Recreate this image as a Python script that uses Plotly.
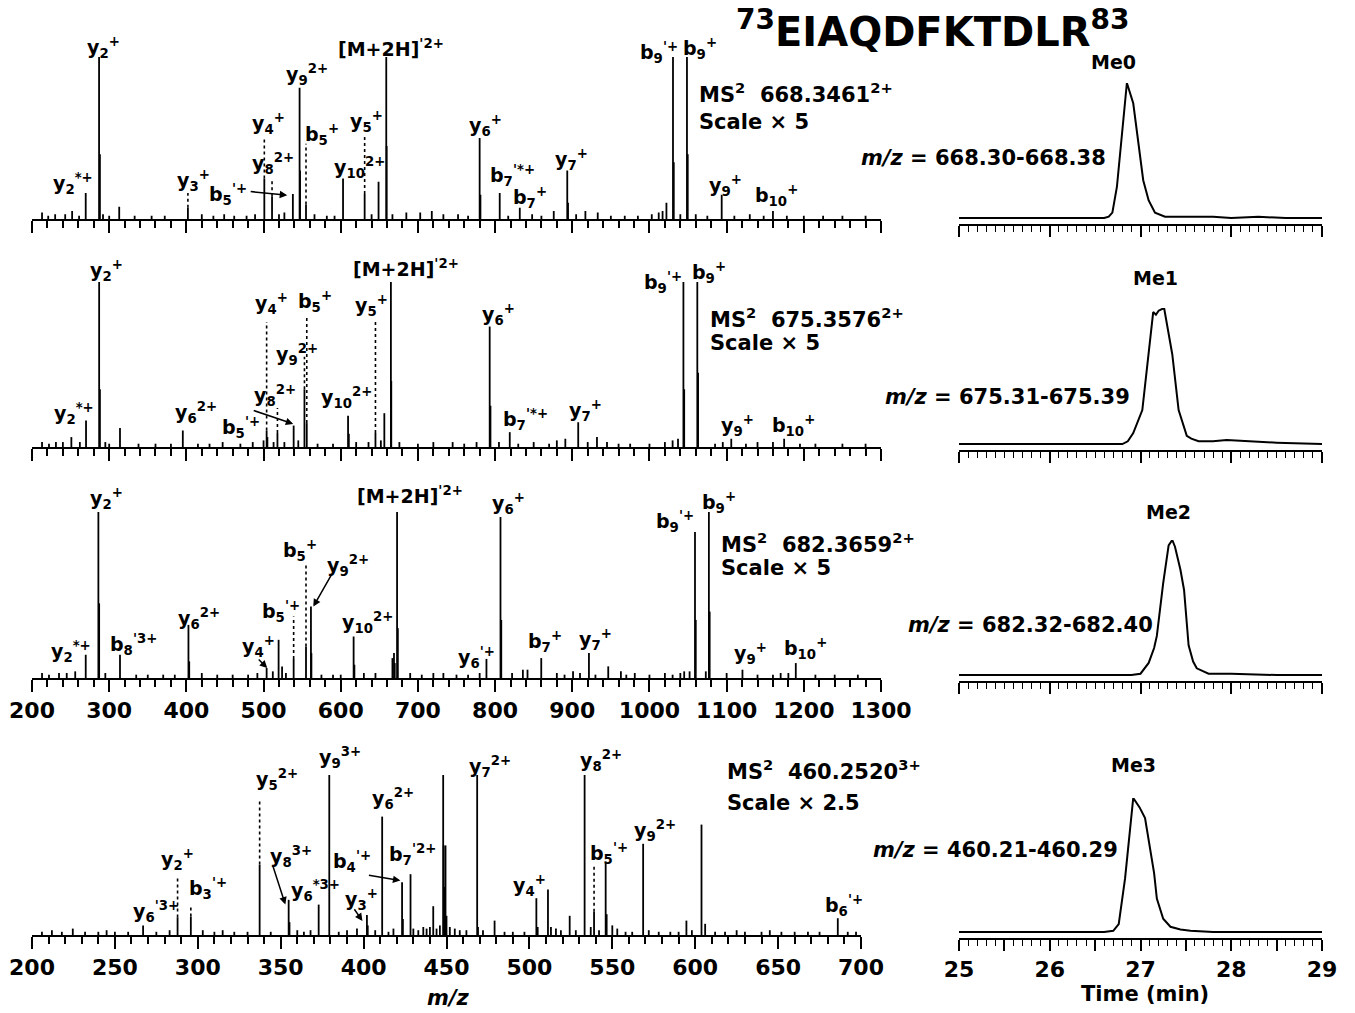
import plotly.graph_objects as go

W, H = 1355, 1013
FONT = "DejaVu Sans"

# ---------------- MS2 spectra (relative intensity, %) ----------------
# Me0, precursor 668.3461 (2+)
s0_mz = [269.6, 286.9, 288.0, 313, 402, 501, 511, 538, 546.7, 547.3, 555, 603, 631, 649,
         659, 659.5, 780, 781, 806, 832, 893.5, 894.5, 1022, 1030.5, 1031.5, 1048.6, 1049.6,
         1093.6, 1160]
s0_int = [16, 100, 40, 7.5, 7, 25, 14, 15.5, 81, 30, 9, 25, 15.5, 23,
          100, 45, 50, 15, 16, 7, 30, 10, 10, 100, 35, 100, 40,
          15, 5]
s0_noise_mz = [213, 221, 230, 243, 252, 261, 292, 300, 333, 355, 372, 420, 435, 449, 462, 478,
               489, 520, 527, 566, 582, 592, 640, 667, 685, 703, 718, 733, 752, 765, 817, 848,
               860, 876, 905, 917, 933, 950, 968, 985, 1003, 1012, 1017, 1040, 1060, 1075,
               1110, 1130, 1148, 1178, 1200, 1225, 1250, 1280]
s0_noise_int = [4, 2, 3, 3, 5, 2, 3, 2, 2, 2, 2, 3, 2, 3, 2, 2,
                3, 3, 4, 3, 2, 2, 3, 3, 4, 4, 5, 3, 3, 2, 2, 3,
                2, 5, 3, 5, 4, 2, 2, 2, 3, 4, 5, 3, 3, 2,
                2, 3, 2, 2, 2, 2, 2, 2]

# Me1, precursor 675.3576 (2+)
s1_mz = [251, 270, 287, 288, 314, 395.4, 504, 505, 518, 539, 553, 556, 609.5, 610.5, 645,
         656.5, 665, 665.5, 793, 794, 819, 891, 907.7, 932, 945, 1044, 1045, 1062, 1063,
         1106, 1174.5]
s1_int = [6, 16, 100, 35, 11.5, 10, 10, 6, 8.5, 13, 35, 14.5, 19, 8, 8.5,
          20.5, 100, 40, 73, 25, 9, 5, 15, 6, 3, 100, 35, 100, 45,
          5, 5]
s1_noise_mz = [213, 222, 231, 240, 262, 295, 300, 338, 360, 380, 415, 430, 447, 470, 486, 500,
               513, 527, 545, 570, 590, 620, 636, 652, 676, 700, 720, 745, 760, 776, 805, 830,
               850, 870, 880, 920, 960, 975, 1000, 1020, 1030, 1037, 1085, 1095, 1125, 1140,
               1160, 1195, 1215, 1250, 1280]
s1_noise_int = [3, 2, 3, 3, 3, 3, 2, 2, 2, 2, 2, 2, 3, 2, 3, 4,
                3, 3, 4, 2, 2, 3, 3, 4, 3, 2, 3, 3, 2, 3, 3, 2,
                3, 2, 4, 3, 2, 2, 2, 3, 4, 5, 2, 3, 2, 3,
                3, 2, 2, 2, 2]

# Me2, precursor 682.3659 (2+)
s2_mz = [269.6, 286, 287, 314, 402.7, 403.7, 504, 519.5, 524, 539, 555, 561.4, 562,
         616.7, 617.7, 667, 669, 670, 673, 674, 733, 788.8, 807, 808, 836, 859.8, 901,
         921.6, 946.6, 963, 981, 1040, 1052, 1059, 1060, 1073, 1077, 1078, 1120.5, 1170,
         1189.6]
s2_int = [14, 100, 45, 14, 32, 10, 6, 23, 7, 11.5, 19, 43, 15,
          25, 8, 12, 15, 9, 100, 30, 3, 11.5, 97, 35, 5, 12, 4,
          15, 7, 4, 3, 3, 4, 88, 35, 4, 100, 40, 5, 3,
          9]
s2_noise_mz = [213, 222, 235, 245, 256, 295, 335, 350, 370, 385, 420, 440, 460, 480, 492, 512,
               529, 575, 590, 600, 630, 645, 690, 705, 720, 750, 765, 780, 822, 842, 880, 890,
               910, 930, 970, 1000, 1020, 1030, 1045, 1100, 1140, 1160, 1180, 1215, 1240, 1270]
s2_noise_int = [3, 2, 3, 3, 4, 3, 2, 2, 2, 2, 3, 2, 2, 2, 3, 4,
                3, 2, 2, 2, 3, 3, 3, 2, 3, 2, 2, 3, 3, 5, 3, 2,
                3, 2, 2, 2, 3, 2, 4, 3, 2, 2, 3, 2, 2, 2]

# Me3, precursor 460.2520 (3+)
s3_mz = [224.6, 267, 287.8, 295.8, 337.3, 354.8, 355.3, 372.9, 379.3, 396, 402, 402.5,
         411.2, 423.2, 423.7, 428.3, 442, 448, 448.3, 448.7, 449.4, 450, 468.5, 469, 479,
         504.2, 505, 511.2, 513, 524.3, 533.3, 539, 546, 546.6, 550, 568.6, 594.7, 603.8,
         606, 686]
s3_int = [4, 6, 11, 11.5, 44, 22, 8, 19, 100, 4, 12.5, 6,
          74, 33, 10, 38, 18, 100, 56, 30, 56, 12, 100, 5, 9,
          23, 5, 28.5, 5, 12, 100, 14.6, 46, 13, 6, 57, 9, 69,
          7, 10.5]
s3_noise_mz = [206, 212, 218, 232, 240, 245, 250, 258, 275, 283, 303, 310, 315, 322, 330, 344,
               360, 364, 368, 385, 390, 407, 415, 418, 430, 433, 436, 438, 440, 444, 446, 452,
               455, 458, 462, 472, 485, 490, 497, 516, 519, 528, 537, 542, 553, 558, 562, 572,
               578, 585, 590, 598, 612, 618, 625, 630, 640, 645, 652, 660, 668, 675, 692, 697]
s3_noise_int = [2, 3, 2, 2, 2, 3, 2, 2, 2, 3, 3, 2, 3, 2, 2, 2,
                3, 2, 3, 2, 3, 3, 2, 4, 4, 3, 5, 4, 5, 4, 6, 5,
                4, 3, 3, 3, 2, 2, 2, 4, 3, 3, 5, 3, 4, 2, 2, 3,
                2, 2, 2, 3, 2, 2, 3, 2, 2, 3, 2, 2, 2, 2, 2, 2]

# ---------------- extracted ion chromatograms (normalised) ----------------
me0_t = [25.0, 25.5, 26.0, 26.4, 26.6, 26.65, 26.69, 26.74, 26.80, 26.85, 26.92, 26.98,
         27.03, 27.09, 27.16, 27.27, 27.40, 27.6, 27.8, 28.0, 28.3, 28.6, 29.0]
me0_i = [0.0, 0.0, 0.0, 0.0, 0.0, 0.01, 0.04, 0.23, 0.63, 1.0, 0.85, 0.56,
         0.28, 0.13, 0.04, 0.01, 0.01, 0.01, 0.01, 0.0, 0.01, 0.0, 0.0]
me1_t = [25.0, 26.0, 26.5, 26.8, 26.86, 26.92, 27.02, 27.09, 27.14, 27.17, 27.20, 27.26,
         27.30, 27.35, 27.42, 27.51, 27.56, 27.64, 27.8, 27.95, 28.2, 28.5, 29.0]
me1_i = [0.0, 0.0, 0.0, 0.0, 0.02, 0.08, 0.25, 0.69, 0.97, 0.95, 0.98, 1.0,
         0.86, 0.66, 0.25, 0.06, 0.04, 0.02, 0.02, 0.03, 0.02, 0.01, 0.0]
me2_t = [25.0, 26.0, 26.5, 26.9, 27.0, 27.09, 27.15, 27.18, 27.25, 27.31, 27.35, 27.38,
         27.44, 27.48, 27.53, 27.58, 27.62, 27.75, 28.0, 28.5, 29.0]
me2_i = [0.0, 0.0, 0.0, 0.0, 0.01, 0.09, 0.2, 0.29, 0.68, 0.96, 1.0, 0.95,
         0.78, 0.63, 0.22, 0.1, 0.05, 0.01, 0.01, 0.0, 0.0]
me3_t = [25.0, 26.0, 26.6, 26.70, 26.76, 26.83, 26.92, 26.99, 27.05, 27.15, 27.18, 27.25,
         27.33, 27.44, 27.55, 27.8, 28.2, 29.0]
me3_i = [0.0, 0.0, 0.0, 0.01, 0.06, 0.4, 1.0, 0.93, 0.85, 0.44, 0.25, 0.1,
         0.04, 0.02, 0.01, 0.0, 0.0, 0.0]

spec_ticks_a = [200, 300, 400, 500, 600, 700, 800, 900, 1000, 1100, 1200, 1300]
spec_ticks_b = [200, 250, 300, 350, 400, 450, 500, 550, 600, 650, 700]
time_ticks = [25, 26, 27, 28, 29]

# ---------------- annotations: (text, m/z, intensity) ----------------
def ion(base, sub, sup):
    return f"{base}<sub>{sub}</sub><sup>{sup}</sup>"

s0_labels = [
    (ion("y", "2", "*+"), 253, 21.7), (ion("y", "2", "+"), 292, 106),
    ("[M+2H]<sup>'2+</sup>", 665, 105.6), (ion("y", "9", "2+"), 556.7, 89),
    (ion("y", "4", "+"), 507, 59), (ion("b", "5", "+"), 576, 52),
    (ion("y", "5", "+"), 633, 60), (ion("y", "8", "2+"), 512.6, 34),
    (ion("y", "10", "2+"), 624, 32), (ion("y", "3", "+"), 409, 23.6),
    (ion("b", "5", "'+"), 454, 15), (ion("y", "6", "+"), 787.5, 58),
    (ion("b", "7", "'*+"), 822.6, 27), (ion("b", "7", "+"), 844.6, 13),
    (ion("y", "7", "+"), 899, 36.7), (ion("b", "9", "'+"), 1013, 102.5),
    (ion("b", "9", "+"), 1066, 105), (ion("y", "9", "+"), 1099, 20.5),
    (ion("b", "10", "+"), 1165, 14.3),
]
s1_labels = [
    (ion("y", "2", "*+"), 254.5, 20.6), (ion("y", "2", "+"), 297, 107),
    ("[M+2H]<sup>'2+</sup>", 685, 108.5), (ion("y", "4", "+"), 510, 86.7),
    (ion("b", "5", "+"), 567, 88), (ion("y", "5", "+"), 640, 85.5),
    (ion("y", "9", "2+"), 543.7, 56), (ion("y", "8", "2+"), 515, 31.5),
    (ion("y", "6", "2+"), 412.7, 21), (ion("b", "5", "'+"), 471, 12),
    (ion("y", "10", "2+"), 607, 30), (ion("y", "6", "+"), 804, 80.6),
    (ion("b", "7", "'*+"), 839, 16.4), (ion("y", "7", "+"), 917, 22),
    (ion("b", "9", "'+"), 1017, 99.4), (ion("b", "9", "+"), 1077, 106),
    (ion("y", "9", "+"), 1114.5, 13.3), (ion("b", "10", "+"), 1187, 13.3),
]
s2_labels = [
    (ion("y", "2", "*+"), 250.6, 15.7), (ion("y", "2", "+"), 296, 108),
    (ion("b", "8", "'3+"), 331, 19.9), (ion("y", "6", "2+"), 416.6, 36),
    (ion("y", "4", "+"), 493, 18.7), (ion("b", "5", "'+"), 523, 40),
    (ion("b", "5", "+"), 547.6, 77), (ion("y", "9", "2+"), 610, 68),
    (ion("y", "10", "2+"), 634.5, 33.7), ("[M+2H]<sup>'2+</sup>", 690, 110),
    (ion("y", "6", "+"), 817, 105), (ion("y", "6", "'+"), 776, 12.6),
    (ion("b", "7", "+"), 865, 21.7), (ion("y", "7", "+"), 930, 23),
    (ion("b", "9", "'+"), 1033, 94), (ion("b", "9", "+"), 1090, 106),
    (ion("y", "9", "+"), 1131, 15), (ion("b", "10", "+"), 1202.6, 18),
]
s3_labels = [
    (ion("y", "6", "'3+"), 274.9, 15), (ion("y", "2", "+"), 288, 47),
    (ion("b", "3", "'+"), 306, 29), (ion("y", "5", "2+"), 348, 97),
    (ion("y", "9", "3+"), 386, 111), (ion("y", "8", "3+"), 356, 49),
    (ion("y", "6", "*3+"), 371, 28), (ion("b", "4", "'+"), 393, 46),
    (ion("b", "7", "'2+"), 429.5, 50.6), (ion("y", "6", "2+"), 418, 85.6),
    (ion("y", "3", "+"), 399, 22), (ion("y", "7", "2+"), 476, 105.6),
    (ion("y", "8", "2+"), 543, 109), (ion("y", "9", "2+"), 575.6, 65.6),
    (ion("b", "5", "'+"), 548, 51), (ion("y", "4", "+"), 500, 31),
    (ion("b", "6", "'+"), 690, 18.7),
]

# dotted connectors: (peak m/z, upper end)
s0_dots = [(402, 16), (501, 50), (511, 25), (555, 46.5), (631, 51.5)]
s1_dots = [(504, 75.8), (518, 23.6), (553, 54.7), (556, 80), (645, 77)]
s2_dots = [(539, 37), (555, 68)]
s3_dots = [(287.8, 36.4), (295.8, 18.7), (337.3, 84), (539, 43.7)]

# arrows: (tail m/z, tail int, head m/z, head int)
s0_arrows = [(481.4, 17, 530.7, 14.7)]
s1_arrows = [(485.3, 22.4, 538.5, 14)]
s2_arrows = [(491.8, 12, 504.8, 6), (589, 63, 564.5, 43)]
s3_arrows = [(345, 44, 352.8, 19), (402.3, 37.5, 422.2, 34), (393.8, 17, 399.3, 8.8)]

fig = go.Figure()

Y_TOP = 120  # headroom above the base peak so labels stay inside the axis range


def px_x(p):
    return p / W


def px_y(p):
    return 1 - p / H


def sticks(mz, inten):
    xs, ys = [], []
    for m, v in zip(mz, inten):
        xs += [m, m, None]
        ys += [0, v, None]
    return xs, ys


spectra = [
    (s0_mz + s0_noise_mz, s0_int + s0_noise_int, s0_labels, s0_dots, s0_arrows),
    (s1_mz + s1_noise_mz, s1_int + s1_noise_int, s1_labels, s1_dots, s1_arrows),
    (s2_mz + s2_noise_mz, s2_int + s2_noise_int, s2_labels, s2_dots, s2_arrows),
    (s3_mz + s3_noise_mz, s3_int + s3_noise_int, s3_labels, s3_dots, s3_arrows),
]
# pixel frames: (left, right, baseline, height of 100 %)
spec_frames = [(32, 881, 219, 162), (32, 881, 447, 165), (32, 881, 678, 166), (32, 861, 935, 160)]
chrom_frames = [(959, 1322, 224, 83), (959, 1322, 450, 308), (959, 1322, 681, 540), (959, 1322, 938, 798)]

annotations = []
label_font = dict(family=FONT, size=19, color="black", weight="bold")
tick_font = dict(family=FONT, size=22, color="black", weight="bold")

layout_axes = {}
for k, (mz, inten, labels, dots, arrows) in enumerate(spectra):
    n = k + 1
    xa, ya = f"x{n}", f"y{n}"
    xs, ys = sticks(mz, inten)
    fig.add_trace(go.Scatter(x=xs, y=ys, mode="lines", xaxis=xa, yaxis=ya,
                             line=dict(color="black", width=1.8), hoverinfo="skip",
                             showlegend=False))
    lookup = dict(zip(mz, inten))
    dx, dy = [], []
    for m, top in dots:
        dx += [m, m, None]
        dy += [lookup[m], top, None]
    fig.add_trace(go.Scatter(x=dx, y=dy, mode="lines", xaxis=xa, yaxis=ya,
                             line=dict(color="black", width=1.6, dash="dot"),
                             hoverinfo="skip", showlegend=False))
    for text, m, v in labels:
        annotations.append(dict(text=text, x=m, y=v, xref=xa, yref=ya, showarrow=False,
                                font=label_font))
    for tx, ty, hx, hy in arrows:
        annotations.append(dict(text="", x=hx, y=hy, ax=tx, ay=ty, xref=xa, yref=ya,
                                axref=xa, ayref=ya, showarrow=True, arrowhead=2,
                                arrowsize=1, arrowwidth=1.5, arrowcolor="black", standoff=0))
    left, right, base, h100 = spec_frames[k]
    last = k == 3
    ticks = spec_ticks_b if last else spec_ticks_a
    layout_axes[f"xaxis{n}"] = dict(
        domain=[px_x(left), px_x(right)], anchor=ya, automargin=False,
        range=[ticks[0], ticks[-1]], tickmode="array", tickvals=ticks,
        ticktext=[str(t) for t in ticks], showticklabels=(k >= 2),
        showline=True, linecolor="black", linewidth=2, ticks="outside", ticklen=12,
        tickwidth=2, tickcolor="black", showgrid=False, zeroline=False, tickfont=tick_font,
        minor=dict(tickmode="linear", tick0=200, dtick=10 if last else 20, ticklen=7,
                   tickwidth=1.5, tickcolor="black", ticks="outside", showgrid=False),
    )
    layout_axes[f"yaxis{n}"] = dict(domain=[px_y(base), px_y(base - h100 * Y_TOP / 100)],
                                    anchor=xa, automargin=False,
                                    range=[0, Y_TOP], visible=False)

chroms = [(me0_t, me0_i), (me1_t, me1_i), (me2_t, me2_i), (me3_t, me3_i)]
half_ticks = [25 + 0.5 * i for i in range(9)]
for k, (t, i) in enumerate(chroms):
    n = k + 5
    xa, ya = f"x{n}", f"y{n}"
    fig.add_trace(go.Scatter(x=t, y=i, mode="lines", xaxis=xa, yaxis=ya,
                             line=dict(color="black", width=2), hoverinfo="skip",
                             showlegend=False))
    left, right, base, top = chrom_frames[k]
    layout_axes[f"xaxis{n}"] = dict(
        domain=[px_x(left), px_x(right)], anchor=ya, range=[25, 29], automargin=False,
        tickmode="array", tickvals=half_ticks,
        ticktext=[str(int(v)) if v in time_ticks else "" for v in half_ticks],
        showticklabels=(k == 3), showline=True, linecolor="black", linewidth=2,
        ticks="outside", ticklen=11, tickwidth=1.5, tickcolor="black", showgrid=False,
        zeroline=False, tickfont=tick_font,
        minor=dict(tickmode="linear", tick0=25, dtick=0.1, ticklen=6, tickwidth=1.2,
                   tickcolor="black", ticks="outside", showgrid=False),
    )
    layout_axes[f"yaxis{n}"] = dict(domain=[px_y(base), px_y(top)], anchor=xa,
                                    automargin=False, range=[-0.044, 1.0], visible=False)

# free-standing texts
def paper_text(text, x, y, size, xanchor="center"):
    annotations.append(dict(text=text, x=px_x(x), y=px_y(y), xref="paper", yref="paper",
                            xanchor=xanchor, yanchor="middle", showarrow=False,
                            font=dict(family=FONT, size=size, color="black", weight="bold")))


paper_text("<sup>73</sup>EIAQDFKTDLR<sup>83</sup>", 932, 29, 40)

ms_texts = [("MS<sup>2</sup>\u00a0\u00a0668.3461<sup>2+</sup>", "Scale × 5", 697, 93, 122),
            ("MS<sup>2</sup>\u00a0\u00a0675.3576<sup>2+</sup>", "Scale × 5", 708, 318, 343),
            ("MS<sup>2</sup>\u00a0\u00a0682.3659<sup>2+</sup>", "Scale × 5", 719, 543, 568),
            ("MS<sup>2</sup>\u00a0\u00a0460.2520<sup>3+</sup>", "Scale × 2.5", 725, 770, 803)]
for line1, line2, x, y1, y2 in ms_texts:
    paper_text(line1, x, y1, 21, "left")
    paper_text(line2, x, y2, 21, "left")

me_texts = [("Me0", 1113, 62, "<i>m/z</i> = 668.30-668.38", 1108, 158),
            ("Me1", 1155, 278, "<i>m/z</i> = 675.31-675.39", 1132, 397),
            ("Me2", 1168, 512, "<i>m/z</i> = 682.32-682.40", 1155, 625),
            ("Me3", 1133, 765, "<i>m/z</i> = 460.21-460.29", 1120, 850)]
for name, nx, ny, rng, rx, ry in me_texts:
    paper_text(name, nx, ny, 19)
    paper_text(rng, rx, ry, 21, "right")

paper_text("<i>m/z</i>", 448, 998, 21)
paper_text("Time (min)", 1145, 994, 21)

fig.update_layout(width=W, height=H, autosize=False,
                  margin=dict(l=0, r=0, t=0, b=0, pad=0, autoexpand=False),
                  paper_bgcolor="white", plot_bgcolor="white", showlegend=False,
                  annotations=annotations, **layout_axes)

fig.write_html("out.html")
